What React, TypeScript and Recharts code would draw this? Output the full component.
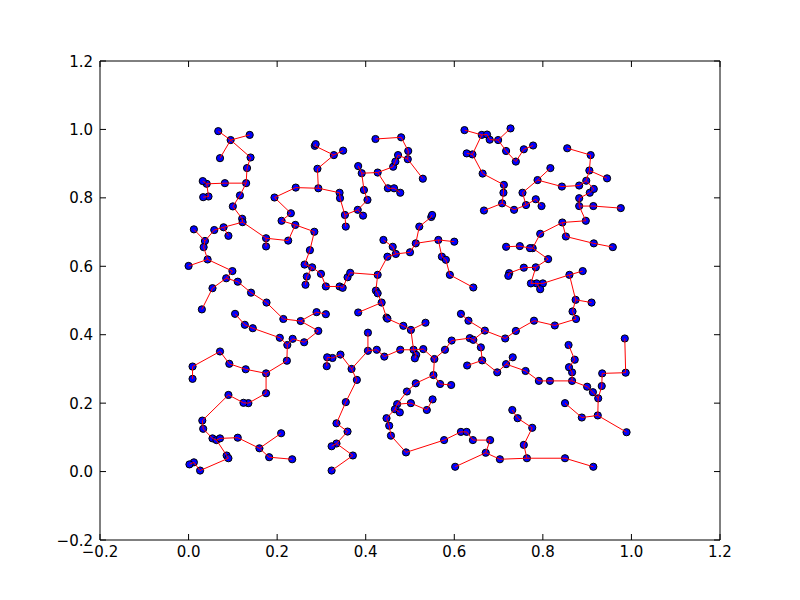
import React from 'react';
import { ScatterChart, Scatter, XAxis, YAxis } from 'recharts';

type P = [number, number];

const xTicks = [-0.2, 0.0, 0.2, 0.4, 0.6, 0.8, 1.0, 1.2];
const yTicks = [-0.2, 0.0, 0.2, 0.4, 0.6, 0.8, 1.0, 1.2];

const topLeftBranches: P[][] = [
  [[0.067, 0.995], [0.095, 0.969], [0.138, 0.984]],
  [[0.071, 0.916], [0.095, 0.969], [0.140, 0.918], [0.132, 0.887], [0.130, 0.843], [0.082, 0.843], [0.041, 0.841], [0.032, 0.849]],
  [[0.041, 0.841], [0.045, 0.804], [0.033, 0.802]],
  [[0.130, 0.843], [0.116, 0.807], [0.100, 0.775], [0.121, 0.739], [0.122, 0.729], [0.079, 0.714], [0.090, 0.689]],
  [[0.079, 0.714], [0.058, 0.706], [0.037, 0.674], [0.012, 0.708]],
  [[0.037, 0.674], [0.034, 0.656], [0.043, 0.620], [0.000, 0.601]],
  [[0.122, 0.729], [0.175, 0.682], [0.175, 0.658]],
  [[0.175, 0.682], [0.225, 0.675], [0.241, 0.721], [0.284, 0.701]],
];

const topMidBranches: P[][] = [
  [[0.194, 0.801], [0.231, 0.755], [0.210, 0.733], [0.241, 0.721]],
  [[0.194, 0.801], [0.242, 0.830], [0.293, 0.828], [0.291, 0.885], [0.328, 0.925], [0.349, 0.938]],
  [[0.328, 0.925], [0.285, 0.952], [0.287, 0.957]],
  [[0.293, 0.828], [0.341, 0.815], [0.342, 0.799], [0.353, 0.750], [0.355, 0.716]],
  [[0.353, 0.750], [0.382, 0.765], [0.394, 0.748]],
  [[0.382, 0.765], [0.404, 0.794], [0.396, 0.823], [0.391, 0.872], [0.383, 0.893]],
  [[0.391, 0.872], [0.427, 0.874], [0.462, 0.891], [0.467, 0.906], [0.473, 0.925], [0.495, 0.913], [0.496, 0.937], [0.480, 0.977], [0.422, 0.972]],
  [[0.495, 0.913], [0.529, 0.856]],
  [[0.427, 0.874], [0.450, 0.828], [0.464, 0.828], [0.478, 0.815]],
];

const centerBranches: P[][] = [
  [[0.284, 0.701], [0.274, 0.647], [0.262, 0.605], [0.279, 0.597], [0.299, 0.578], [0.310, 0.541], [0.341, 0.541], [0.348, 0.537], [0.359, 0.568], [0.365, 0.581], [0.427, 0.575]],
  [[0.279, 0.597], [0.267, 0.570], [0.264, 0.546]],
  [[0.440, 0.677], [0.461, 0.657], [0.468, 0.636], [0.449, 0.628], [0.427, 0.575]],
  [[0.468, 0.636], [0.500, 0.641], [0.513, 0.667], [0.521, 0.716], [0.548, 0.744], [0.550, 0.750]],
  [[0.513, 0.667], [0.564, 0.677], [0.600, 0.672]],
  [[0.564, 0.677], [0.572, 0.628], [0.581, 0.619], [0.590, 0.575], [0.643, 0.538]],
  [[0.427, 0.575], [0.423, 0.529], [0.427, 0.521], [0.436, 0.494], [0.447, 0.450], [0.449, 0.447], [0.485, 0.426], [0.502, 0.414], [0.535, 0.435]],
  [[0.436, 0.494], [0.383, 0.465]],
  [[0.502, 0.414], [0.508, 0.356], [0.514, 0.341], [0.511, 0.331]],
  [[0.508, 0.356], [0.530, 0.358], [0.555, 0.329], [0.579, 0.356], [0.594, 0.383], [0.635, 0.390], [0.643, 0.385], [0.660, 0.363], [0.663, 0.325], [0.629, 0.310]],
  [[0.643, 0.385], [0.669, 0.412], [0.632, 0.441], [0.615, 0.461]],
  [[0.405, 0.406], [0.405, 0.353], [0.425, 0.356], [0.442, 0.336], [0.478, 0.356], [0.508, 0.356]],
  [[0.405, 0.353], [0.368, 0.300], [0.343, 0.342], [0.325, 0.332], [0.313, 0.334], [0.312, 0.308]],
  [[0.368, 0.300], [0.380, 0.268], [0.355, 0.203], [0.334, 0.141], [0.359, 0.117], [0.334, 0.082], [0.371, 0.047], [0.323, 0.003]],
  [[0.334, 0.082], [0.323, 0.074]],
];

const topRightBranches: P[][] = [
  [[0.777, 0.653], [0.794, 0.695], [0.844, 0.728], [0.897, 0.733], [0.882, 0.776], [0.914, 0.776], [0.976, 0.770]],
  [[0.844, 0.728], [0.852, 0.687], [0.915, 0.667], [0.958, 0.656]],
  [[0.882, 0.776], [0.882, 0.799], [0.906, 0.815], [0.915, 0.826], [0.898, 0.850], [0.905, 0.880], [0.945, 0.857]],
  [[0.905, 0.880], [0.908, 0.925], [0.855, 0.945]],
  [[0.898, 0.850], [0.882, 0.836], [0.843, 0.833], [0.788, 0.852], [0.817, 0.887]],
  [[0.788, 0.852], [0.754, 0.815], [0.762, 0.779], [0.735, 0.765], [0.708, 0.784], [0.711, 0.815], [0.712, 0.838], [0.664, 0.871], [0.641, 0.927], [0.628, 0.930]],
  [[0.762, 0.779], [0.784, 0.796], [0.797, 0.776]],
  [[0.708, 0.784], [0.667, 0.763]],
  [[0.641, 0.927], [0.662, 0.984], [0.623, 0.998]],
  [[0.662, 0.984], [0.674, 0.985], [0.680, 0.970], [0.699, 0.969], [0.727, 1.003]],
  [[0.699, 0.969], [0.717, 0.937], [0.739, 0.906], [0.757, 0.942], [0.778, 0.953]],
];

const rightBranches: P[][] = [
  [[0.669, 0.412], [0.715, 0.389], [0.739, 0.411], [0.780, 0.441], [0.827, 0.427], [0.875, 0.446], [0.867, 0.468], [0.874, 0.502], [0.910, 0.494]],
  [[0.874, 0.502], [0.860, 0.575], [0.890, 0.586]],
  [[0.860, 0.575], [0.800, 0.550], [0.786, 0.550], [0.773, 0.550], [0.784, 0.597], [0.812, 0.621], [0.777, 0.653], [0.771, 0.653], [0.748, 0.659], [0.717, 0.657]],
  [[0.786, 0.550], [0.794, 0.533]],
  [[0.784, 0.597], [0.757, 0.596], [0.724, 0.580], [0.722, 0.572]],
  [[0.663, 0.325], [0.697, 0.290], [0.717, 0.314], [0.732, 0.334]],
  [[0.717, 0.314], [0.761, 0.294], [0.791, 0.265], [0.816, 0.265], [0.866, 0.265], [0.866, 0.290], [0.859, 0.305], [0.872, 0.327], [0.858, 0.370]],
  [[0.866, 0.265], [0.900, 0.248], [0.913, 0.232], [0.925, 0.214], [0.933, 0.250], [0.934, 0.287], [0.987, 0.289], [0.985, 0.389]],
  [[0.925, 0.214], [0.924, 0.164], [0.989, 0.115]],
  [[0.924, 0.164], [0.888, 0.158], [0.850, 0.200]],
];

const bottomBranches: P[][] = [
  [[0.553, 0.282], [0.555, 0.329]],
  [[0.553, 0.282], [0.568, 0.256], [0.593, 0.253]],
  [[0.553, 0.282], [0.513, 0.258], [0.493, 0.234], [0.471, 0.197], [0.502, 0.200], [0.538, 0.180], [0.551, 0.211]],
  [[0.471, 0.197], [0.466, 0.182], [0.477, 0.173]],
  [[0.466, 0.182], [0.447, 0.156], [0.453, 0.134], [0.457, 0.105], [0.491, 0.056], [0.577, 0.092], [0.615, 0.116], [0.628, 0.116], [0.642, 0.092], [0.681, 0.092], [0.671, 0.055], [0.602, 0.014]],
  [[0.671, 0.055], [0.703, 0.036], [0.764, 0.039], [0.850, 0.039], [0.914, 0.014]],
  [[0.764, 0.039], [0.757, 0.078], [0.776, 0.128], [0.743, 0.156], [0.731, 0.180]],
];

const leftBranches: P[][] = [
  [[0.043, 0.620], [0.099, 0.586], [0.085, 0.565], [0.054, 0.536], [0.030, 0.474]],
  [[0.085, 0.565], [0.111, 0.555], [0.141, 0.523], [0.176, 0.494], [0.214, 0.446], [0.253, 0.440], [0.289, 0.466], [0.310, 0.460]],
  [[0.253, 0.440], [0.293, 0.411], [0.261, 0.378], [0.235, 0.388], [0.223, 0.370], [0.222, 0.324], [0.175, 0.287], [0.129, 0.299], [0.092, 0.315], [0.071, 0.351], [0.009, 0.307], [0.009, 0.271]],
  [[0.223, 0.370], [0.206, 0.391], [0.145, 0.419], [0.127, 0.429], [0.105, 0.461]],
  [[0.175, 0.287], [0.175, 0.229], [0.135, 0.200], [0.124, 0.201], [0.090, 0.224], [0.031, 0.149], [0.033, 0.125], [0.054, 0.097], [0.063, 0.092], [0.071, 0.097], [0.111, 0.099], [0.160, 0.068], [0.209, 0.112]],
  [[0.160, 0.068], [0.182, 0.042], [0.234, 0.036]],
  [[0.063, 0.092], [0.086, 0.047], [0.090, 0.039], [0.026, 0.003], [0.012, 0.027], [0.002, 0.021]],
];

const allBranches: P[][] = [
  ...topLeftBranches,
  ...topMidBranches,
  ...centerBranches,
  ...topRightBranches,
  ...rightBranches,
  ...bottomBranches,
  ...leftBranches,
];

const seen = new Set<string>();
const nodes: { x: number; y: number }[] = [];
allBranches.forEach((b) =>
  b.forEach(([x, y]) => {
    const k = `${x},${y}`;
    if (!seen.has(k)) {
      seen.add(k);
      nodes.push({ x, y });
    }
  })
);

const fmt = (v: number) => {
  const s = Math.abs(v).toFixed(1);
  return v < -1e-9 ? `\u2212${s}` : s;
};

const FONT = 'DejaVu Sans';
const TICK = 6;

const BottomTick = (props: any) => {
  const { x, y, payload } = props;
  return (
    <g>
      <line x1={x} x2={x} y1={y} y2={y - TICK} stroke="#000" strokeWidth={1} />
      <text x={x} y={y + 17} textAnchor="middle" fontFamily={FONT} fontSize={15} fill="#000">
        {fmt(payload.value)}
      </text>
    </g>
  );
};

const TopTick = (props: any) => {
  const { x, y } = props;
  return <line x1={x} x2={x} y1={y} y2={y + TICK} stroke="#000" strokeWidth={1} />;
};

const LeftTick = (props: any) => {
  const { x, y, payload } = props;
  return (
    <g>
      <line x1={x} x2={x + TICK} y1={y} y2={y} stroke="#000" strokeWidth={1} />
      <text x={x - 7} y={y + 5.5} textAnchor="end" fontFamily={FONT} fontSize={15} fill="#000">
        {fmt(payload.value)}
      </text>
    </g>
  );
};

const RightTick = (props: any) => {
  const { x, y } = props;
  return <line x1={x} x2={x - TICK} y1={y} y2={y} stroke="#000" strokeWidth={1} />;
};

const Dot = (props: any) => {
  const { cx, cy } = props;
  if (cx == null || cy == null) return <g />;
  return <circle cx={cx} cy={cy} r={3.6} fill="#0000ff" stroke="#000" strokeWidth={1} />;
};

const NoShape = () => <g />;

export default function App() {
  return (
    <div style={{ position: 'absolute', left: 0, top: 0, width: 800, height: 600, background: '#fff' }}>
      <ScatterChart width={800} height={600} margin={{ top: 60, right: 79, bottom: 59, left: 99 }}>
        <XAxis
          xAxisId="b"
          dataKey="x"
          type="number"
          domain={[-0.2, 1.2]}
          ticks={xTicks}
          allowDataOverflow
          orientation="bottom"
          height={1}
          tickSize={0}
          tickMargin={0}
          tickLine={false}
          axisLine={{ stroke: '#000', strokeWidth: 1 }}
          tick={<BottomTick />}
          interval={0}
        />
        <XAxis
          xAxisId="t"
          dataKey="x"
          type="number"
          domain={[-0.2, 1.2]}
          ticks={xTicks}
          allowDataOverflow
          orientation="top"
          height={1}
          tickSize={0}
          tickMargin={0}
          tickLine={false}
          axisLine={{ stroke: '#000', strokeWidth: 1 }}
          tick={<TopTick />}
          interval={0}
        />
        <YAxis
          yAxisId="l"
          dataKey="y"
          type="number"
          domain={[-0.2, 1.2]}
          ticks={yTicks}
          allowDataOverflow
          orientation="left"
          width={1}
          tickSize={0}
          tickMargin={0}
          tickLine={false}
          axisLine={{ stroke: '#000', strokeWidth: 1 }}
          tick={<LeftTick />}
          interval={0}
        />
        <YAxis
          yAxisId="r"
          dataKey="y"
          type="number"
          domain={[-0.2, 1.2]}
          ticks={yTicks}
          allowDataOverflow
          orientation="right"
          width={1}
          tickSize={0}
          tickMargin={0}
          tickLine={false}
          axisLine={{ stroke: '#000', strokeWidth: 1 }}
          tick={<RightTick />}
          interval={0}
        />
        <Scatter
          xAxisId="b"
          yAxisId="l"
          data={nodes}
          shape={<Dot />}
          isAnimationActive={false}
        />
        {allBranches.map((b, i) => (
          <Scatter
            key={i}
            xAxisId="b"
            yAxisId="l"
            data={b.map(([x, y]) => ({ x, y }))}
            line={{ stroke: '#ff0000', strokeWidth: 1 }}
            lineType="joint"
            shape={<NoShape />}
            isAnimationActive={false}
          />
        ))}
      </ScatterChart>
    </div>
  );
}
